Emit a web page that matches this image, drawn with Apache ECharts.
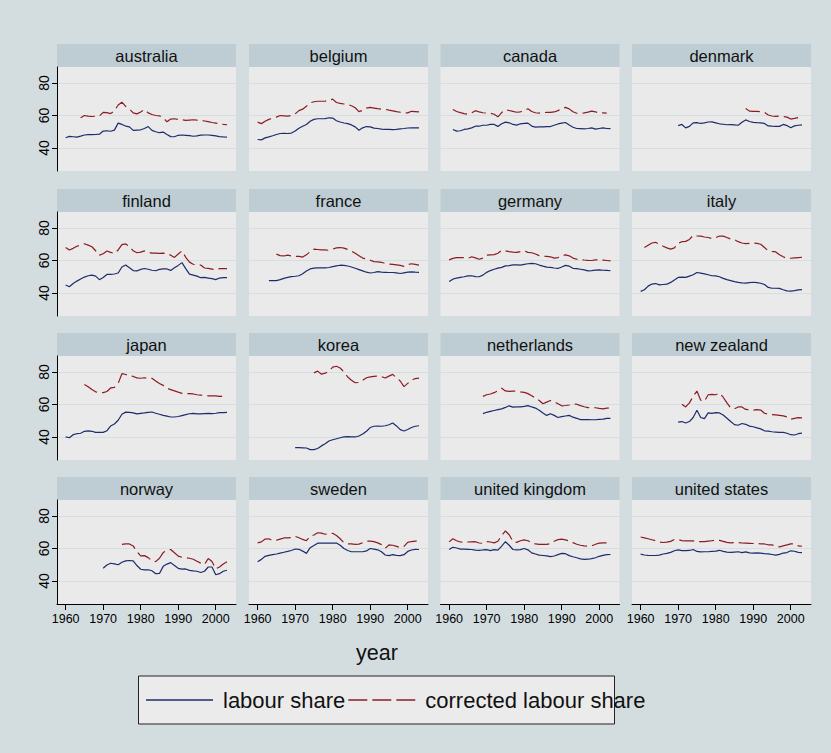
<!DOCTYPE html>
<html>
<head>
<meta charset="utf-8">
<script src="https://cdn.jsdelivr.net/npm/echarts@6/dist/echarts.min.js"></script>
<style>
html,body{margin:0;padding:0;background:#D3DDE0;}
#chart{width:831px;height:753px;}
</style>
</head>
<body>
<div id="chart"></div>
<script>
// ---------------- DATA ----------------
const countries = ['australia','belgium','canada','denmark','finland','france','germany','italy',
  'japan','korea','netherlands','new zealand','norway','sweden','united kingdom','united states'];
const xTicks = [1960, 1970, 1980, 1990, 2000];
const yTicks = [40, 60, 80];
const seriesNames = ['labour share', 'corrected labour share'];

// first year of each country's series
const labourStart    = [1960,1960,1961,1970,1960,1963,1960,1960,1960,1970,1969,1970,1970,1960,1960,1960];
const correctedStart = [1964,1960,1961,1988,1960,1965,1960,1961,1965,1975,1969,1971,1975,1960,1960,1960];

// labour share
const australia_ls = [46.3,47.1,46.9,46.7,47.3,48.0,48.2,48.2,48.3,48.5,50.4,50.6,50.3,51.0,55.3,54.5,53.5,53.0,50.8,51.0,51.2,52.0,53.2,50.8,50.0,49.4,49.8,48.3,47.0,46.9,47.8,48.0,47.8,47.6,47.2,47.5,47.9,48.0,48.0,47.8,47.4,47.0,46.8,46.7];
const belgium_ls = [45.2,45.0,46.2,46.8,47.5,48.3,48.9,49.0,48.9,49.2,50.4,52.2,53.4,54.5,56.5,57.6,58.0,58.0,58.1,58.6,58.4,56.8,56.0,55.4,55.0,54.2,53.0,50.9,52.4,53.2,53.0,52.2,52.0,51.6,51.4,51.4,51.3,51.5,51.8,52.0,52.3,52.4,52.4,52.4];
const canada_ls = [51.4,50.4,50.6,51.4,51.8,52.4,53.4,53.4,54.0,54.0,54.5,54.5,53.3,54.9,55.9,55.5,54.5,54.1,54.9,55.1,55.3,53.5,52.8,53.0,53.0,53.2,53.2,54.0,54.8,55.3,55.7,54.1,52.8,52.0,51.9,51.8,52.0,52.4,51.6,52.0,52.4,52.0,51.9];
const denmark_ls = [53.8,54.5,52.4,53.3,55.5,55.6,55.1,55.5,56.0,56.1,55.5,54.9,54.6,54.3,54.4,54.2,54.0,55.8,57.3,56.3,55.8,55.6,55.5,55.1,53.6,53.4,53.3,53.3,54.5,53.8,52.5,53.6,54.0,54.2];
const finland_ls = [44.9,43.8,45.8,47.3,48.6,49.8,50.6,51.0,50.4,48.2,49.5,51.4,51.5,51.7,52.3,56.0,57.2,55.5,53.8,53.6,54.5,55.1,54.6,54.0,53.7,54.5,54.9,54.8,53.9,55.5,57.0,58.7,55.0,51.6,51.0,50.4,49.4,49.6,49.2,48.8,48.2,49.2,49.4,49.4];
const france_ls = [47.6,47.6,47.6,48.2,49.0,49.6,50.1,50.3,50.6,51.8,53.5,54.8,55.3,55.5,55.5,55.5,55.7,56.2,56.7,57.1,57.0,56.6,56.0,55.2,54.4,53.6,52.8,52.3,52.6,53.1,52.8,52.7,52.6,52.6,52.4,52.0,52.4,52.8,53.0,52.8,52.7];
const germany_ls = [47.0,48.5,49.2,49.6,50.0,50.5,50.6,50.1,50.0,51.0,52.7,53.8,54.6,55.3,55.8,56.7,56.9,57.3,57.3,57.2,57.6,58.0,58.2,58.0,57.2,56.5,55.9,55.8,55.4,55.1,56.0,57.0,56.5,55.2,55.0,54.6,54.2,53.6,53.8,54.1,54.2,54.0,53.9,53.7];
const italy_ls = [41.0,42.0,44.2,45.5,45.8,45.0,45.2,45.4,46.5,48.0,49.6,49.8,49.6,50.4,51.2,52.6,52.2,51.8,51.2,50.6,50.5,50.0,49.0,48.2,47.6,47.0,46.5,46.2,46.1,46.4,46.6,46.4,46.0,45.2,43.4,42.9,42.9,42.8,42.0,41.3,41.1,41.4,41.9,42.1];
const japan_ls = [40.0,39.5,41.4,42.0,42.3,43.5,43.8,43.5,42.8,42.8,42.8,43.8,46.8,48.0,50.3,54.0,55.3,55.2,54.8,54.2,54.5,54.8,55.2,55.4,54.6,54.0,53.3,52.8,52.3,52.3,52.6,53.2,53.8,54.3,54.5,54.2,54.2,54.4,54.5,54.4,54.6,55.0,55.0,55.2];
const korea_ls = [33.4,33.4,33.3,33.2,32.2,32.2,32.9,34.5,35.8,37.5,38.3,38.9,39.5,40.0,40.2,40.1,40.0,40.6,41.8,43.5,45.8,46.6,46.7,46.6,46.9,47.5,48.6,46.8,44.5,43.7,44.6,45.8,46.6,46.9];
const netherlands_ls = [54.4,55.2,55.8,56.3,56.8,57.3,58.2,59.2,58.4,58.5,58.6,58.9,59.3,58.5,57.8,56.5,54.8,53.3,54.3,53.3,52.0,52.5,52.9,53.3,52.2,51.5,50.7,50.7,50.7,50.6,50.6,50.8,51.0,51.4,51.5];
const newzealand_ls = [49.2,49.5,48.6,49.5,52.0,56.5,52.0,51.3,54.8,54.5,55.0,54.8,53.5,51.5,49.5,47.6,47.2,48.3,47.8,46.7,46.3,45.6,45.0,43.8,43.6,43.2,43.0,42.8,42.8,42.3,41.4,41.2,42.0,42.4];
const norway_ls = [47.8,49.8,50.9,50.5,50.0,51.5,52.4,52.6,52.4,49.5,47.2,46.8,46.9,46.3,44.5,44.6,49.0,50.4,51.3,49.5,47.8,47.3,47.4,46.5,46.2,46.0,45.2,46.0,48.6,48.6,43.8,44.5,46.0,46.6];
const sweden_ls = [51.9,53.3,55.2,55.8,56.2,56.6,57.2,57.7,58.2,58.8,59.7,59.5,58.4,57.0,60.5,61.8,63.3,63.4,63.3,63.3,63.3,63.4,62.0,60.0,58.8,58.0,58.0,58.0,58.0,58.5,60.0,59.6,59.2,58.0,56.0,55.6,56.2,55.8,55.6,56.2,58.2,59.1,59.5,59.4];
const uk_ls = [59.4,60.8,60.3,59.6,59.6,59.5,59.4,59.0,58.8,59.1,59.3,58.7,59.3,59.0,61.5,64.2,62.0,59.4,59.2,59.3,60.0,59.2,57.3,56.6,55.9,55.7,55.5,55.0,55.4,56.2,57.0,56.8,55.6,54.9,54.3,53.6,53.3,53.4,53.8,54.3,55.2,55.8,56.2,56.3];
const us_ls = [56.5,56.0,55.8,55.7,55.7,55.9,56.6,57.0,57.6,58.6,59.2,58.7,58.7,58.8,59.4,58.2,57.9,58.0,58.0,58.2,58.4,58.9,58.2,57.8,57.6,57.8,58.0,57.5,57.9,57.3,57.2,57.3,57.1,56.8,56.7,56.3,55.9,56.4,57.2,57.5,58.6,58.3,57.6,57.5];

// corrected labour share
const australia_cls = [58.6,60.0,59.6,59.4,59.6,59.7,61.9,61.8,61.2,62.8,66.5,68.2,65.6,64.1,61.6,61.0,62.2,63.6,61.6,60.6,60.0,59.8,58.6,56.1,57.8,58.0,57.6,57.4,57.0,57.2,57.4,57.1,57.0,56.6,56.2,55.7,55.3,54.9,54.5,54.3];
const belgium_cls = [55.9,55.0,56.5,57.6,58.3,59.0,60.0,59.8,59.6,60.1,61.0,63.0,63.9,65.7,67.8,68.5,68.8,68.8,68.9,69.3,70.1,68.0,67.5,67.1,66.8,66.0,64.8,62.4,63.2,64.6,65.0,64.6,64.2,63.9,63.8,63.3,62.9,62.4,62.0,61.7,61.6,62.6,62.4,62.2];
const canada_cls = [63.7,62.5,61.8,61.2,60.8,61.6,63.0,62.2,61.7,61.5,61.4,60.8,59.2,61.8,63.5,63.1,62.5,62.0,62.3,63.0,64.2,62.5,61.7,61.5,61.8,61.9,61.9,62.2,63.0,64.3,65.0,64.1,62.3,61.4,61.3,61.6,62.1,62.7,62.2,61.7,61.6,61.5];
const denmark_cls = [64.3,62.7,62.5,62.5,62.4,62.0,60.3,59.7,59.5,59.6,59.4,59.0,57.8,58.2,58.7,58.7];
const finland_cls = [68.0,66.5,67.5,68.8,69.5,70.3,69.5,68.5,66.0,63.3,64.2,65.9,65.0,64.3,66.5,69.8,70.2,68.6,66.0,64.8,65.2,65.9,65.0,64.6,64.5,64.4,64.5,64.3,63.3,61.9,64.0,65.9,62.0,59.0,57.7,57.3,57.2,55.4,55.1,54.7,54.3,55.0,55.0,55.0];
const france_cls = [63.9,63.0,62.8,63.3,62.8,62.5,62.6,62.1,63.5,65.5,67.0,66.8,66.6,66.5,66.3,67.0,67.8,68.0,67.6,66.8,65.8,64.5,63.0,61.5,60.9,60.2,59.3,59.1,58.9,58.2,57.8,57.6,57.3,57.0,56.4,57.5,58.0,57.6,57.2];
const germany_cls = [60.4,61.3,61.8,61.8,61.8,61.4,62.3,61.6,60.8,61.5,63.3,63.5,63.6,64.5,66.3,66.0,65.5,65.2,65.0,65.5,66.0,65.0,64.8,64.0,63.0,62.7,62.5,62.3,61.5,61.8,63.0,63.5,62.9,61.5,60.8,60.6,60.3,60.1,60.0,60.4,60.4,60.2,60.0,59.8];
const italy_cls = [68.0,69.4,70.8,71.2,70.0,68.8,67.8,67.0,67.8,70.6,71.6,71.8,73.0,75.5,75.2,75.0,74.5,74.2,73.5,74.0,75.1,75.0,74.2,73.2,72.8,71.6,70.8,70.4,70.6,70.8,70.6,70.0,68.0,66.0,65.6,65.3,63.5,62.3,61.3,61.4,61.6,61.8,62.0];
const japan_cls = [72.4,71.0,69.2,67.8,67.3,67.3,68.0,70.2,70.6,73.0,79.0,78.5,77.8,77.3,76.4,76.2,76.5,76.0,76.2,74.5,73.0,71.8,70.0,69.2,68.4,67.6,66.9,66.7,66.7,66.5,66.0,65.8,65.6,65.3,65.3,65.3,65.0,65.0,65.0];
const korea_cls = [79.5,80.6,78.7,79.3,80.6,83.0,83.6,82.5,80.0,77.0,75.0,73.4,73.6,75.0,76.5,77.0,77.3,77.5,77.2,76.3,77.5,78.6,76.5,74.5,71.0,73.0,75.0,76.0,76.3];
const netherlands_cls = [65.0,66.0,66.5,67.3,68.5,70.0,68.4,68.1,68.2,68.2,67.8,67.5,66.7,65.4,64.0,62.5,60.5,61.5,62.5,61.8,60.5,59.2,59.4,59.7,60.2,60.2,59.3,58.6,58.1,58.0,58.0,57.6,57.3,57.8,57.9];
const newzealand_cls = [60.1,58.5,61.0,65.0,68.3,62.6,62.0,66.0,66.3,66.0,67.1,64.5,61.0,57.8,57.4,58.5,58.5,57.0,56.8,56.5,56.8,56.6,54.6,54.0,53.8,53.6,53.3,53.0,52.4,50.9,51.5,51.9,51.8];
const norway_cls = [62.6,62.9,62.8,61.6,58.0,55.5,55.6,54.4,52.4,51.9,54.0,57.5,58.8,59.4,57.4,55.3,54.6,54.4,54.0,53.4,52.2,51.0,50.2,53.8,52.0,47.5,48.6,50.5,51.9];
const sweden_cls = [63.5,64.1,65.8,66.0,64.8,65.1,65.8,66.5,66.5,66.8,67.5,66.6,65.6,64.8,67.5,68.3,69.7,69.5,68.8,68.9,69.4,68.0,66.0,63.6,62.9,62.8,62.6,62.7,63.6,64.5,64.5,64.2,63.5,62.4,60.2,62.2,62.0,61.3,60.6,61.3,63.8,64.3,64.6,64.4];
const uk_cls = [64.1,66.0,64.8,64.0,63.9,64.0,64.1,64.2,63.4,63.2,64.2,64.0,63.5,64.5,68.0,70.8,68.5,64.4,63.8,64.8,65.3,64.8,63.5,62.8,62.6,62.6,62.6,63.0,64.5,65.5,65.8,65.3,64.6,63.6,62.6,62.0,61.6,61.5,61.6,62.6,63.3,63.5,63.5,63.5];
const us_cls = [67.1,66.6,66.0,65.4,64.8,64.0,63.7,63.9,64.4,65.6,65.5,64.9,64.7,64.7,64.7,64.2,64.2,64.2,64.5,64.8,65.1,65.0,64.4,63.8,63.5,63.6,63.6,63.4,63.3,63.2,63.1,63.0,62.9,62.8,62.3,62.2,61.6,61.0,61.6,62.2,62.9,62.8,61.6,61.4];

const labourShare = [australia_ls, belgium_ls, canada_ls, denmark_ls, finland_ls, france_ls, germany_ls, italy_ls,
  japan_ls, korea_ls, netherlands_ls, newzealand_ls, norway_ls, sweden_ls, uk_ls, us_ls];
const correctedShare = [australia_cls, belgium_cls, canada_cls, denmark_cls, finland_cls, france_cls, germany_cls, italy_cls,
  japan_cls, korea_cls, netherlands_cls, newzealand_cls, norway_cls, sweden_cls, uk_cls, us_cls];

// ---------------- LAYOUT / STYLE ----------------
const FONT = '"Liberation Sans", Arial, Helvetica, sans-serif';
const colLeft = [57, 249, 440.5, 632];
const rowTop = [67, 212, 356, 500];
const PW = 179, PH = 104, STRIP = 23;
const X_MIN = 1957.7, X_MAX = 2005.4;
const Y_MIN = 25.8, Y_MAX = 89.9;
const BLUE = '#1d2c6c', RED = '#8e1b22';

const grids = [], xAxes = [], yAxes = [], series = [], graphics = [];

countries.forEach((name, i) => {
  const r = Math.floor(i / 4), c = i % 4;
  const left = colLeft[c], top = rowTop[r];
  grids.push({left, top, width: PW, height: PH, show: true, backgroundColor: '#EAEAEA', borderWidth: 0});
  const bottomRow = r === 3, leftCol = c === 0;
  xAxes.push({
    gridIndex: i, type: 'value', min: X_MIN, max: X_MAX, splitNumber: 5,
    axisLine: {show: bottomRow, onZero: false, lineStyle: {color: '#000', width: 1}},
    axisTick: {show: bottomRow, length: 6, customValues: xTicks, lineStyle: {color: '#000', width: 1}},
    axisLabel: {show: bottomRow, customValues: xTicks, fontSize: 12.5, color: '#000', fontFamily: FONT, margin: 8,
      formatter: v => String(v)},
    splitLine: {show: false}
  });
  yAxes.push({
    gridIndex: i, type: 'value', min: Y_MIN, max: Y_MAX, splitNumber: 3,
    axisLine: {show: leftCol, onZero: false, lineStyle: {color: '#000', width: 1}},
    axisTick: {show: leftCol, length: 5, customValues: yTicks, lineStyle: {color: '#000', width: 1}},
    axisLabel: {show: leftCol, customValues: yTicks, rotate: 90, fontSize: 14, color: '#000', fontFamily: FONT, margin: 6,
      formatter: v => String(v)},
    splitLine: {show: true, lineStyle: {color: '#D5DFE2', width: 1.2}}
  });
  series.push({
    type: 'line', name: seriesNames[0], xAxisIndex: i, yAxisIndex: i,
    data: labourShare[i].map((v, k) => [labourStart[i] + k, v]),
    symbol: 'none', showSymbol: false, animation: false,
    lineStyle: {color: BLUE, width: 1.2}, itemStyle: {color: BLUE}
  });
  series.push({
    type: 'line', name: seriesNames[1], xAxisIndex: i, yAxisIndex: i,
    data: correctedShare[i].map((v, k) => [correctedStart[i] + k, v]),
    symbol: 'none', showSymbol: false, animation: false,
    lineStyle: {color: RED, width: 1.2, type: [15, 5]}, itemStyle: {color: RED}
  });
  graphics.push({type: 'rect', shape: {x: left, y: top - STRIP, width: PW, height: STRIP}, style: {fill: '#BECDD3'}, z: 0});
  graphics.push({type: 'text', x: left + PW / 2, y: top - STRIP / 2 + 0.5, z: 1,
    style: {text: name, fontSize: 16.5, fontFamily: FONT, fill: '#111', align: 'center', verticalAlign: 'middle'}});
});

graphics.push({type: 'text', x: 377, y: 653, z: 1,
  style: {text: 'year', fontSize: 21.5, fontFamily: FONT, fill: '#111', align: 'center', verticalAlign: 'middle'}});
graphics.push({type: 'rect', shape: {x: 138.5, y: 676, width: 476, height: 48}, z: 0,
  style: {fill: '#EBEBEB', stroke: '#222', lineWidth: 1}});

const chart = echarts.init(document.getElementById('chart'), null, {renderer: 'svg'});
chart.setOption({
  backgroundColor: '#D3DDE0',
  animation: false,
  grid: grids, xAxis: xAxes, yAxis: yAxes, series,
  graphic: graphics,
  legend: {
    data: [
      {name: seriesNames[0], icon: 'path://M0,0H67V1.5H0Z'},
      {name: seriesNames[1], icon: 'path://M0,0H19V1.5H0Z M24,0H43V1.5H24Z M48,0H67V1.5H48Z'}
    ],
    left: 146, top: 689, padding: 0, z: 10,
    itemWidth: 67, itemHeight: 1.5, itemGap: 3, selectedMode: false,
    textStyle: {fontSize: 22, color: '#111', fontFamily: FONT, padding: [0, 0, 0, 5]}
  }
});
</script>
</body>
</html>
